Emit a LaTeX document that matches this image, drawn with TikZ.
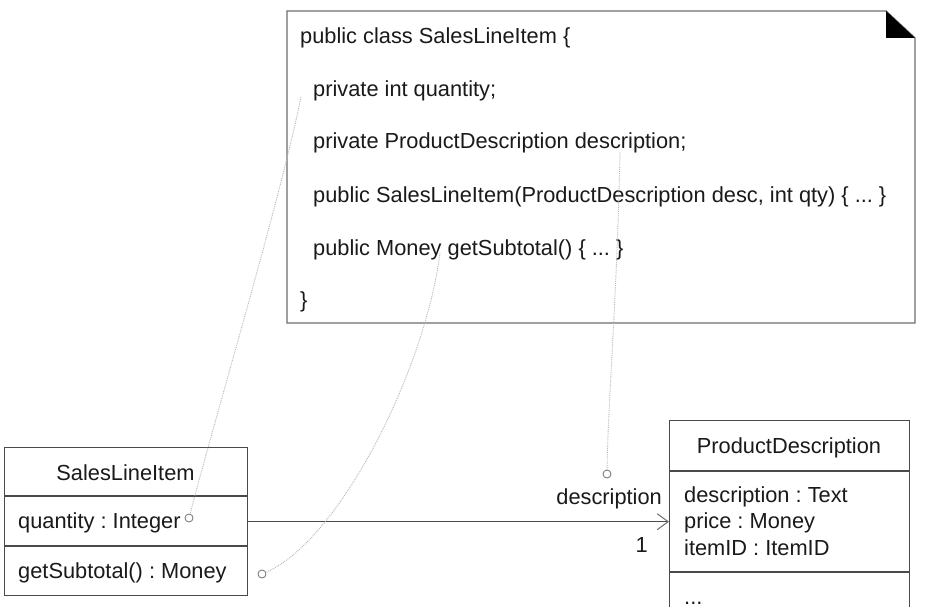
\documentclass[tikz,border=0pt]{standalone}
\usepackage{fontspec}
\setmainfont{Liberation Sans}
\usetikzlibrary{arrows.meta}
\definecolor{txt}{HTML}{1A1A1A}
\definecolor{edgec}{HTML}{4A4A4A}
\definecolor{dotc}{HTML}{B8B8B8}
\definecolor{portc}{HTML}{707070}
\frenchspacing
\begin{document}
\begin{tikzpicture}[x=1pt,y=-1pt,
  lbl/.style={font=\fontsize{21.8}{26}\selectfont\frenchspacing, text=txt, inner sep=0pt},
  box/.style={draw=edgec, line width=1.4pt, fill=white, inner sep=0pt},
  sep/.style={draw=edgec, line width=1.2pt},
  port/.style={circle, draw=portc, line width=0.8pt, minimum size=8pt, inner sep=0pt, fill=white},
  trace/.style={draw=dotc, densely dotted, line width=0.9pt},
  assoc/.style={draw=edgec, line width=1.3pt, -{Straight Barb[length=11pt,width=16pt,line width=1pt,color=portc]}},
  notec/.style={draw=edgec!80, line width=1.4pt, fill=white}]
\clip (0,0) rectangle (929,607);
\fill[white] (0,0) rectangle (929,607);

% note
\draw[notec] (287,11) -- (886,11) -- (915,38) -- (915,323) -- (287,323) -- cycle;
\fill[black] (886,11) -- (886,38) -- (915,38) -- cycle;
\node[lbl, anchor=base west] (l1) at (300,44) {public class SalesLineItem \{};
\node[lbl, anchor=base west] (l2) at (313,97) {private int quantity;};
\node[lbl, anchor=base west] (l3) at (313,149) {private ProductDescription description;};
\node[lbl, anchor=base west] (l4) at (313,202) {public SalesLineItem(ProductDescription desc, int qty) \{ ... \}};
\node[lbl, anchor=base west] (l5) at (313,255) {public Money getSubtotal() \{ ... \}};
\node[lbl, anchor=base west] (l6) at (300,307) {\}};

% SalesLineItem class
\node[box, anchor=north west, minimum width=243pt, minimum height=148pt] (sli) at (4,447) {};
\draw[sep] (4,496) -- (247,496);
\draw[sep] (4,546) -- (247,546);
\node[lbl, anchor=base] (slin) at (125.5,480) {SalesLineItem};
\node[lbl, anchor=base west] (qty) at (18,528) {quantity : Integer};
\node[lbl, anchor=base west] (gst) at (18,578) {getSubtotal() : Money};

% ProductDescription class
\node[box, anchor=north west, minimum width=240pt, minimum height=230pt] (pd) at (669,420) {};
\draw[sep] (669,471) -- (909,471);
\draw[sep] (669,572) -- (909,572);
\node[lbl, anchor=base] (pdn) at (789,453) {ProductDescription};
\node[lbl, anchor=base west] (pa1) at (684,502) {description : Text};
\node[lbl, anchor=base west] (pa2) at (684,528) {price : Money};
\node[lbl, anchor=base west] (pa3) at (684,555) {itemID : ItemID};
\node[lbl, anchor=base west] (pa4) at (684,604) {...};

% association
\draw[assoc] (sli.east) -- (sli.east -| pd.west);
\node[lbl, anchor=base east] (role) at (662,504) {description};
\node[lbl, anchor=base east] (mult) at (648,552) {1};

% ports and traces
\node[port] (c1) at (189,518) {};
\node[port] (c2) at (262,574) {};
\node[port] (c3) at (607,474) {};
\coordinate (q1) at (301,97);
\coordinate (g1) at (440,253);
\coordinate (d1) at (620,152);
\draw[trace] (q1) .. controls (280,200) and (220,400) .. (c1);
\draw[trace] (g1) .. controls (425,370) and (340,540) .. (c2);
\draw[trace] (d1) .. controls (617,300) and (608,400) .. (c3);
\end{tikzpicture}
\end{document}
